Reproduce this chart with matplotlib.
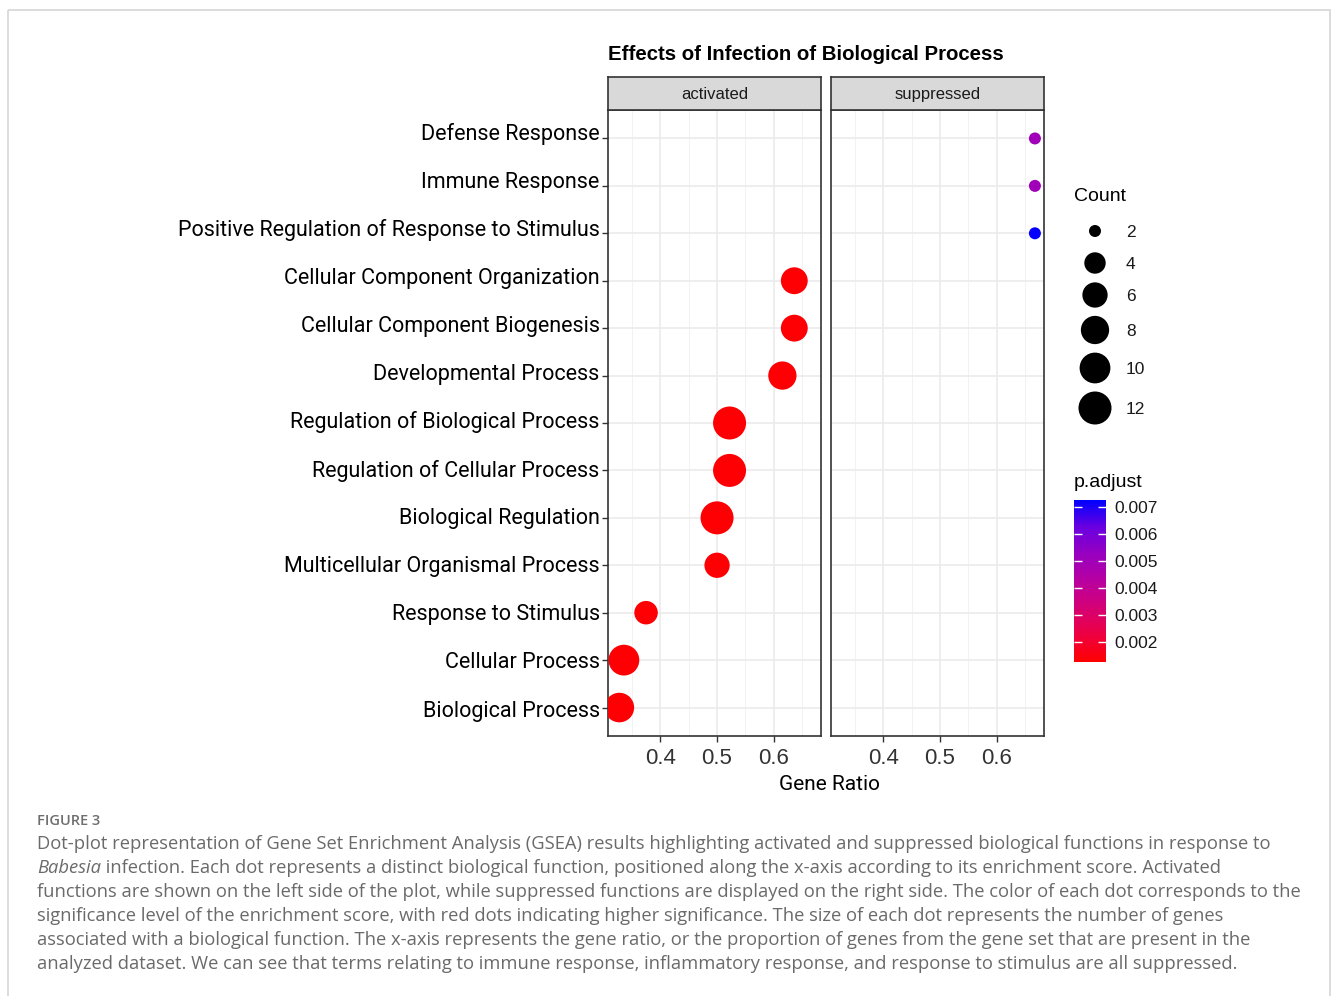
import numpy as np
import matplotlib
matplotlib.use('Agg')
import matplotlib.pyplot as plt
import matplotlib.transforms as mtransforms
from matplotlib.colors import LinearSegmentedColormap, Normalize
from matplotlib.patches import Rectangle

# ---- data ----
terms = [
    'Defense Response',
    'Immune Response',
    'Positive Regulation of Response to Stimulus',
    'Cellular Component Organization',
    'Cellular Component Biogenesis',
    'Developmental Process',
    'Regulation of Biological Process',
    'Regulation of Cellular Process',
    'Biological Regulation',
    'Multicellular Organismal Process',
    'Response to Stimulus',
    'Cellular Process',
    'Biological Process',
]

activated_terms = terms[3:]
activated_ratio = [0.636, 0.636, 0.615, 0.522, 0.522, 0.500, 0.500, 0.375, 0.336, 0.328]
activated_count = [7, 7, 8, 12, 12, 12, 6, 5, 10, 9]
activated_padj = [0.0013, 0.0013, 0.0013, 0.0013, 0.0013, 0.0013, 0.0013, 0.0013, 0.0013, 0.0013]

suppressed_terms = terms[:3]
suppressed_ratio = [0.667, 0.667, 0.667]
suppressed_count = [2, 2, 2]
suppressed_padj = [0.0050, 0.0050, 0.0072]

count_breaks = [2, 4, 6, 8, 10, 12]
padj_breaks = [0.002, 0.003, 0.004, 0.005, 0.006, 0.007]
x_breaks = [0.4, 0.5, 0.6]

caption_lines = [
    'Dot-plot representation of Gene Set Enrichment Analysis (GSEA) results highlighting activated and suppressed biological functions in response to',
    ' infection. Each dot represents a distinct biological function, positioned along the x-axis according to its enrichment score. Activated',
    'functions are shown on the left side of the plot, while suppressed functions are displayed on the right side. The color of each dot corresponds to the',
    'significance level of the enrichment score, with red dots indicating higher significance. The size of each dot represents the number of genes',
    'associated with a biological function. The x-axis represents the gene ratio, or the proportion of genes from the gene set that are present in the',
    'analyzed dataset. We can see that terms relating to immune response, inflammatory response, and response to stimulus are all suppressed.',
]

W, H = 1331, 996
DPI = 100

padj_cmap = LinearSegmentedColormap.from_list(
    'padj', ['#FF0000', '#EE0040', '#D50075', '#B800A0', '#9800C0', '#6A00E0', '#0000FF'])
padj_norm = Normalize(vmin=0.00125, vmax=0.00726)


def dot_size(count):
    """Area-style size scale (diameter in px -> points^2)."""
    count = np.asarray(count, dtype=float)
    diam_px = 12 + 21 * np.sqrt(np.clip((count - 2) / 10, 0, None))
    return (diam_px * 72 / DPI) ** 2


def fx(px):
    return px / W


def fy(py):
    return 1 - py / H


def style_panel(fig, ax, show_y):
    ax.set_xlim(0.308, 0.683)
    ax.set_ylim(-0.6, len(terms) - 0.4)
    ax.set_xticks(x_breaks)
    ax.set_xticks([0.35, 0.45, 0.55, 0.65], minor=True)
    ax.set_xticklabels([f'{v:.1f}' for v in x_breaks], fontsize=16,
                       color='#333333', family='Liberation Sans')
    ax.set_yticks(range(len(terms)))
    ax.grid(which='major', color='#EBEBEB', lw=1.2)
    ax.grid(which='minor', axis='x', color='#F2F2F2', lw=0.7)
    ax.set_axisbelow(True)
    ax.tick_params(which='major', length=4, width=1, color='#333333', pad=5)
    ax.tick_params(axis='y', pad=2)
    ax.tick_params(which='minor', length=0)
    if show_y:
        ax.set_yticklabels(terms[::-1], fontsize=15.5, family='Roboto', color='black')
        # labels in the source sit a little above their ticks near the top
        n = len(terms)
        for i, lab in enumerate(ax.get_yticklabels()):
            up = (-1 + 8 * i / (n - 1)) / DPI
            lab.set_transform(lab.get_transform() +
                              mtransforms.ScaledTranslation(0, up, fig.dpi_scale_trans))
    else:
        ax.tick_params(axis='y', length=0, labelleft=False)
    for sp in ax.spines.values():
        sp.set_color('#333333')
        sp.set_linewidth(1.2)


def add_strip(fig, left, label):
    sax = fig.add_axes([fx(left), fy(110), fx(213), 33 / H])
    sax.set_facecolor('#D9D9D9')
    sax.set_xticks([])
    sax.set_yticks([])
    for sp in sax.spines.values():
        sp.set_color('#333333')
        sp.set_linewidth(1.2)
    sax.text(0.5, 0.47, label, ha='center', va='center', fontsize=12,
             color='#1A1A1A', family='Liberation Sans', transform=sax.transAxes)


fig = plt.figure(figsize=(W / DPI, H / DPI), dpi=DPI)

y_of = {t: len(terms) - 1 - i for i, t in enumerate(terms)}

ax1 = fig.add_axes([fx(608), fy(736), fx(213), (736 - 110) / H])
ax2 = fig.add_axes([fx(831), fy(736), fx(213), (736 - 110) / H])
style_panel(fig, ax1, True)
style_panel(fig, ax2, False)

ax1.scatter(activated_ratio, [y_of[t] for t in activated_terms], s=dot_size(activated_count),
            c=activated_padj, cmap=padj_cmap, norm=padj_norm, linewidths=0, zorder=3)
ax2.scatter(suppressed_ratio, [y_of[t] for t in suppressed_terms], s=dot_size(suppressed_count),
            c=suppressed_padj, cmap=padj_cmap, norm=padj_norm, linewidths=0, zorder=3)

add_strip(fig, 608, 'activated')
add_strip(fig, 831, 'suppressed')

fig.text(fx(806), fy(54), 'Effects of Infection of Biological Process', ha='center', va='center',
         fontsize=14.7, fontweight='bold', family='Liberation Sans')
fig.text(fx(830), fy(784), 'Gene Ratio', ha='center', va='center', fontsize=15, family='Roboto')

# ---- Count legend ----
lax = fig.add_axes([0, 0, 1, 1], facecolor='none')
lax.set_xlim(0, W)
lax.set_ylim(H, 0)
lax.axis('off')
key_y = [231, 263, 295, 330, 368, 408]
lax.scatter([1095] * len(count_breaks), key_y, s=dot_size(count_breaks), color='black', linewidths=0)
for v, yy in zip(count_breaks, key_y):
    lax.text(1126, yy + 1, str(v), ha='left', va='center', fontsize=12.5,
             family='Liberation Sans', color='#1A1A1A')
lax.text(1074, 196, 'Count', ha='left', va='center', fontsize=14, family='Liberation Sans')

# ---- p.adjust colourbar ----
lax.text(1074, 482, 'p.adjust', ha='left', va='center', fontsize=14, family='Liberation Sans')
cax = fig.add_axes([fx(1074), fy(662), fx(32), 162 / H])
sm = plt.cm.ScalarMappable(cmap=padj_cmap, norm=padj_norm)
cb = fig.colorbar(sm, cax=cax)
cb.outline.set_visible(False)
cb.set_ticks(padj_breaks)
cb.set_ticklabels([f'{v:.3f}' for v in padj_breaks])
cax.tick_params(which='major', direction='in', color='white', length=6, width=1,
                left=True, right=True, labelsize=12.5, pad=6, labelcolor='#1A1A1A')
for lab in cax.get_yticklabels():
    lab.set_family('Liberation Sans')
cax.minorticks_off()

# ---- caption ----
lax.add_patch(Rectangle((8, 10), 1322, 1000, fill=False, edgecolor='#D5D5D5', lw=1.2))
lax.text(37, 821, 'FIGURE 3', ha='left', va='center', fontsize=10.5, family='Open Sans',
         color='#6E6E6E', fontweight='semibold')
cap_kw = dict(fontsize=13.25, family='Open Sans', color='#6A6A6A', va='center')
line_y = 844
for i, line in enumerate(caption_lines):
    yy = line_y + 24 * i
    if i == 1:
        t = lax.text(37, yy, 'Babesia', ha='left', style='italic', **cap_kw)
        lax.annotate(line, xy=(1, 0.5), xycoords=t, ha='left', **cap_kw)
    else:
        lax.text(37, yy, line, ha='left', **cap_kw)

fig.savefig('out.png', dpi=DPI)
